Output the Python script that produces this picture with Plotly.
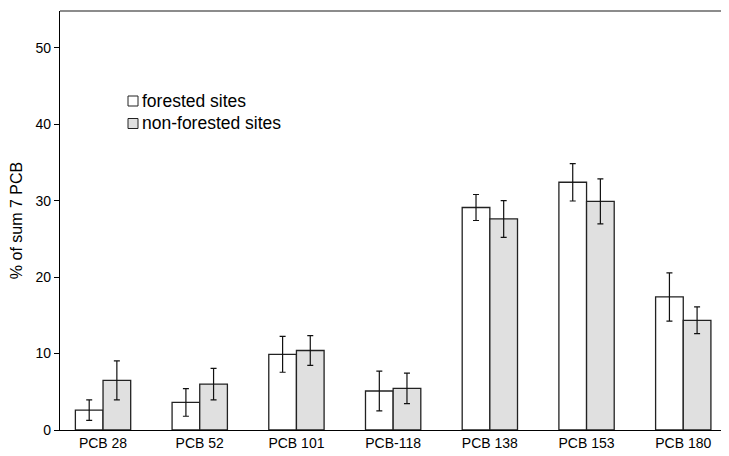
import plotly.graph_objects as go

categories = ["PCB 28", "PCB 52", "PCB 101", "PCB-118", "PCB 138", "PCB 153", "PCB 180"]
forested = [2.6, 3.6, 9.9, 5.1, 29.1, 32.4, 17.4]
forested_err = [1.35, 1.8, 2.35, 2.6, 1.7, 2.45, 3.15]
nonforested = [6.5, 6.0, 10.4, 5.45, 27.6, 29.9, 14.35]
nonforested_err = [2.55, 2.05, 1.95, 2.0, 2.4, 2.95, 1.75]
y_ticks = [0, 10, 20, 30, 40, 50]

FONT = "Liberation Sans, Arial, sans-serif"
OFF = 8  # default page body margin
W, H = 721, 448
ML, MR, MT, MB = 52, 0, 3, 26

fig = go.Figure()
fig.add_trace(go.Bar(
    x=list(range(len(categories))), y=forested, name="forested sites",
    marker=dict(color="white", line=dict(color="#222222", width=1.3)),
    error_y=dict(type="data", array=forested_err, color="#111111", thickness=1.2, width=3),
    showlegend=False,
))
fig.add_trace(go.Bar(
    x=list(range(len(categories))), y=nonforested, name="non-forested sites",
    marker=dict(color="#e0e0e0", line=dict(color="#222222", width=1.3)),
    error_y=dict(type="data", array=nonforested_err, color="#111111", thickness=1.2, width=3),
    showlegend=False,
))

# legend drawn manually (boxes + text), positions given in screen pixels
pw = W - ML - MR
ph = H - MT - MB
def px_x(p):
    return (p - OFF - ML) / pw
def px_y(p):
    return (H - MB - (p - OFF)) / ph

legend_items = [("forested sites", "white", 101), ("non-forested sites", "#e0e0e0", 123.5)]
for label, col, cy in legend_items:
    fig.add_shape(type="rect", xref="paper", yref="paper",
                  x0=px_x(128), x1=px_x(138), y0=px_y(cy + 5), y1=px_y(cy - 5),
                  fillcolor=col, line=dict(color="#222222", width=1))
    fig.add_annotation(x=px_x(140), y=px_y(cy), xref="paper", yref="paper",
                       text=label, showarrow=False, xanchor="left", yanchor="middle",
                       font=dict(family=FONT, size=17.5, color="black"))

fig.update_layout(
    width=W, height=H,
    margin=dict(l=ML, r=MR, t=MT, b=MB),
    plot_bgcolor="white", paper_bgcolor="white",
    barmode="group", bargap=0.428, bargroupgap=0,
    font=dict(family=FONT, size=14, color="black"),
)
fig.update_xaxes(
    range=[-0.445, 6.473],
    tickmode="array", tickvals=list(range(len(categories))), ticktext=categories,
    showline=True, linecolor="black", linewidth=1.3, mirror=False,
    showgrid=False, ticks="", tickfont=dict(size=14), zeroline=False, automargin=False,
)
fig.update_yaxes(
    range=[0, 54.8], tickvals=y_ticks,
    showline=True, linecolor="black", linewidth=1.3,
    showgrid=False, ticks="outside", ticklen=5, tickwidth=1.2, tickcolor="black",
    tickfont=dict(size=14), zeroline=False, automargin=False,
    title=dict(text="% of sum 7 PCB", font=dict(size=16), standoff=12),
)
# top frame line
fig.add_shape(type="line", xref="paper", yref="paper", x0=0, x1=1, y0=1, y1=1,
              line=dict(color="#666666", width=1.5))

fig.write_html("out.html")
